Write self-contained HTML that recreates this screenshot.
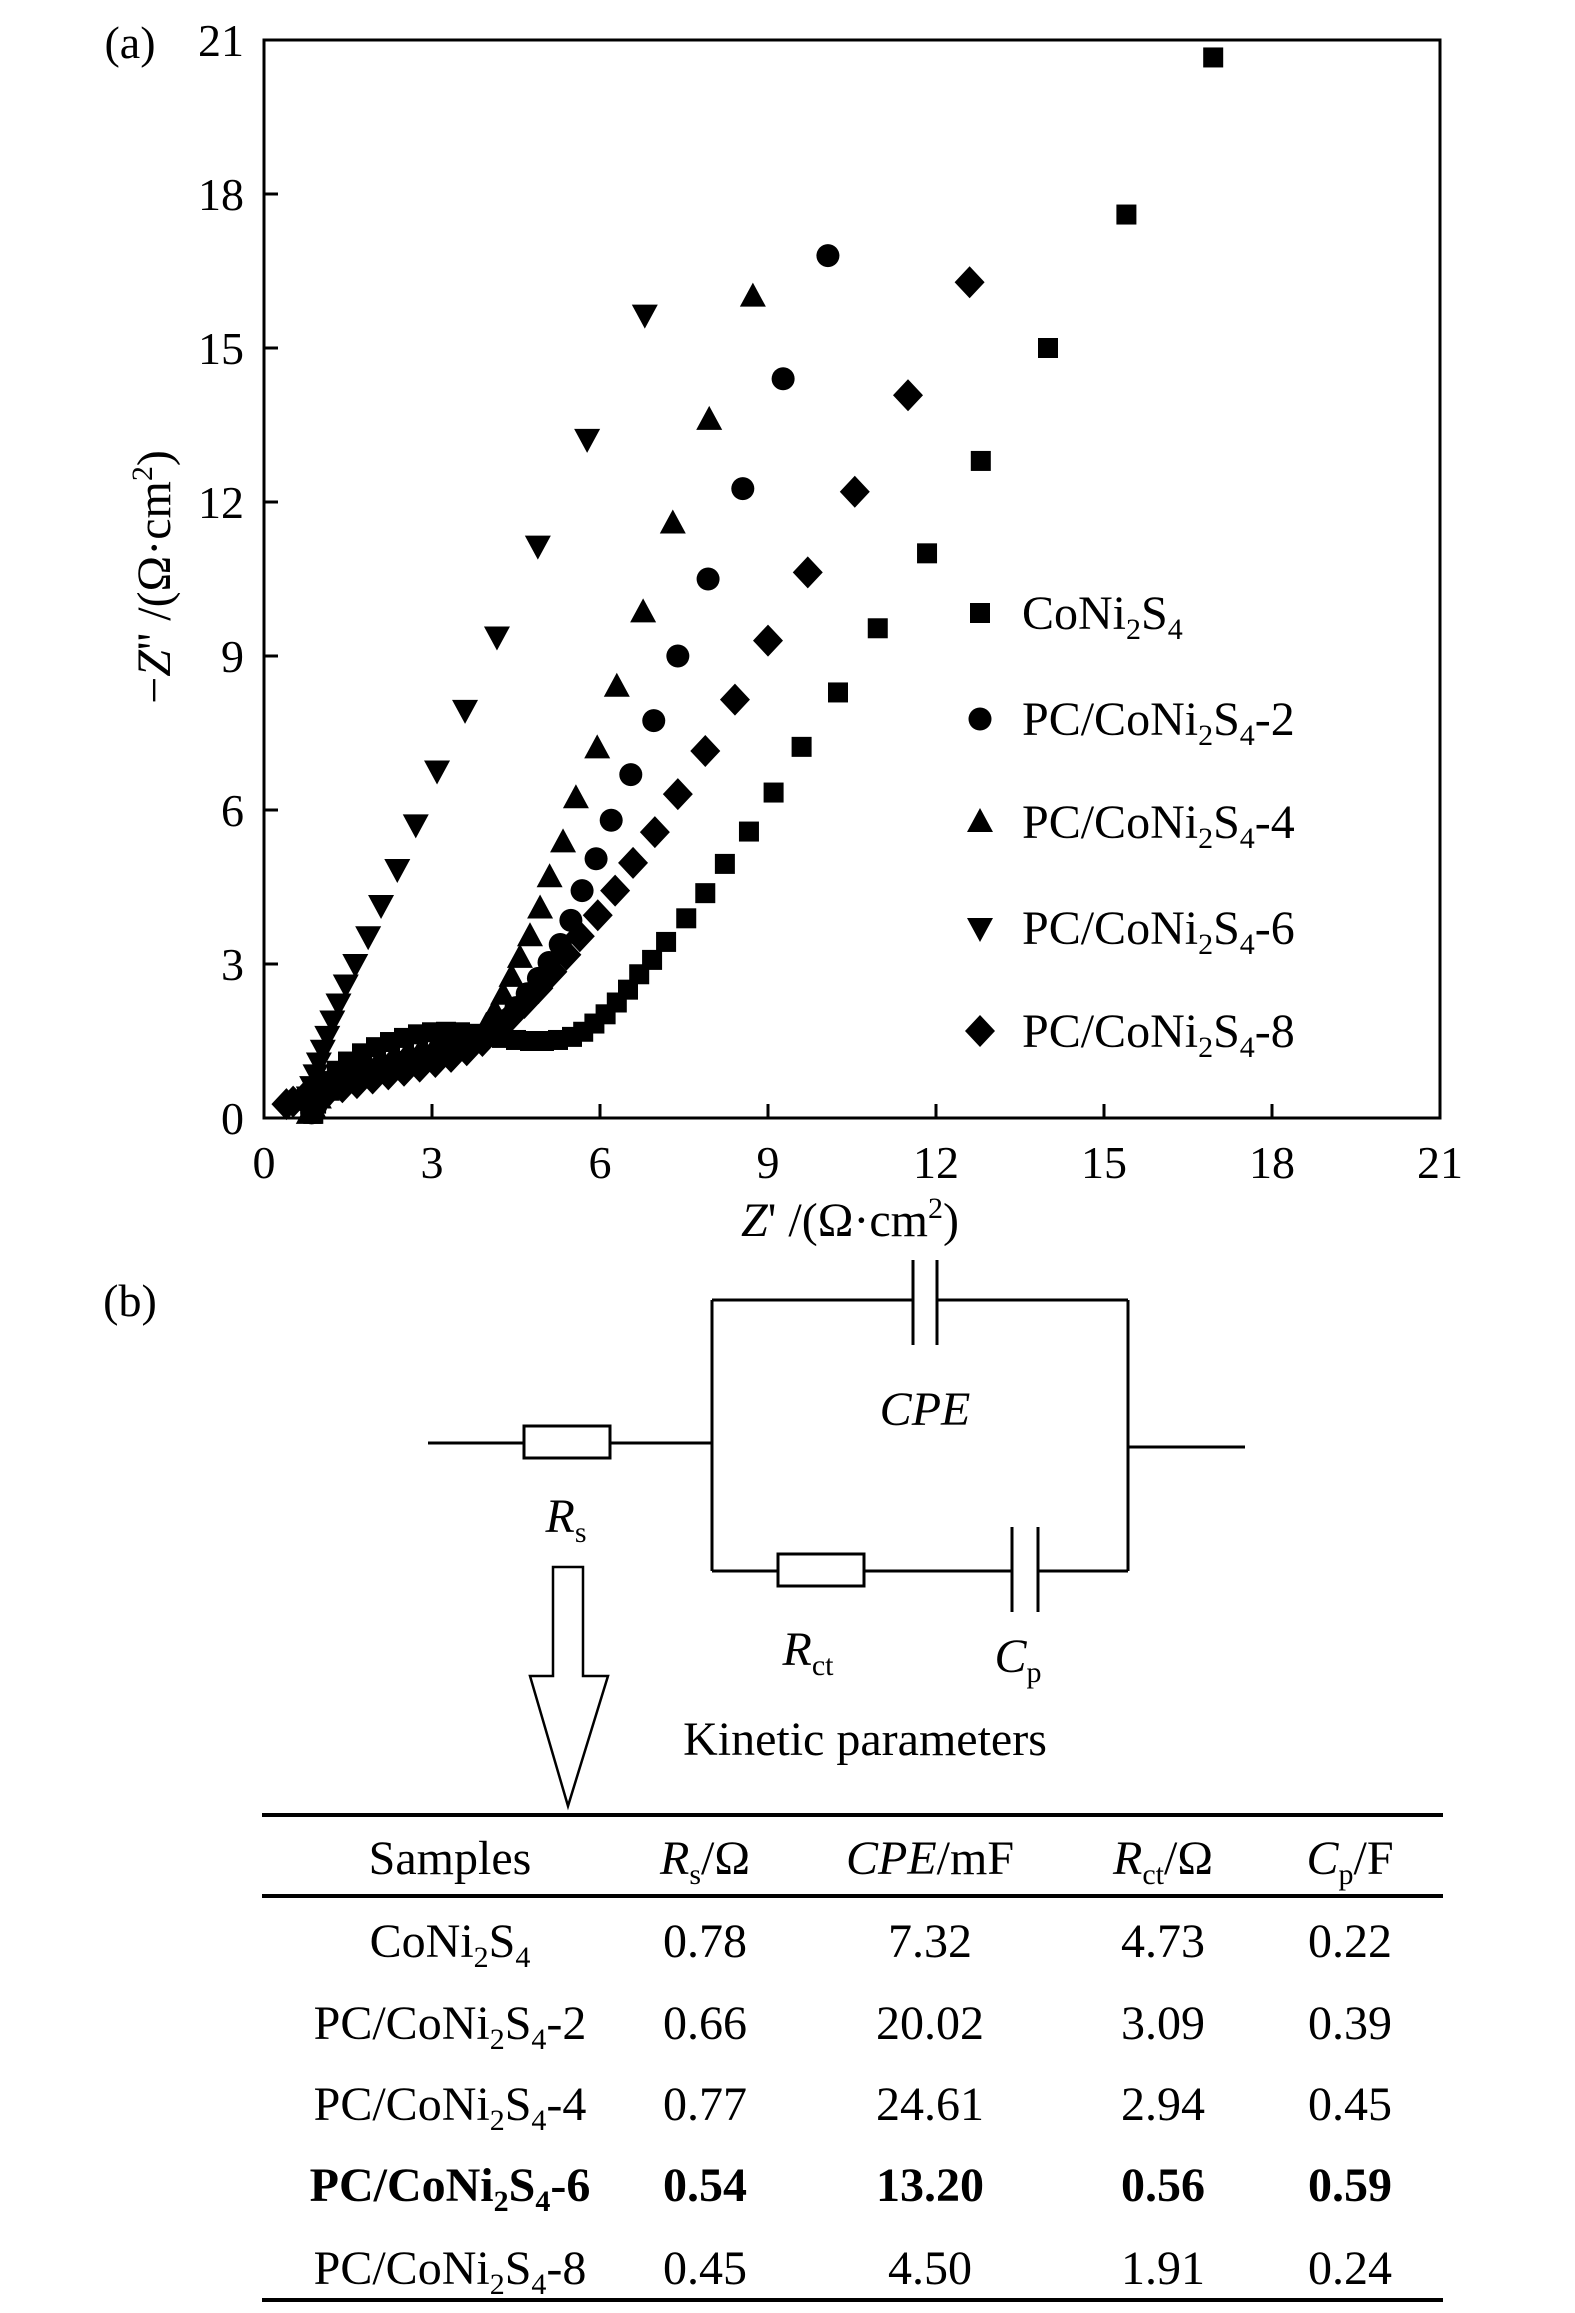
<!DOCTYPE html>
<html><head><meta charset="utf-8"><style>
html,body{margin:0;padding:0;background:#fff}
svg{display:block;font-family:"Liberation Serif",serif}
</style></head><body>
<svg id="fig" width="1575" height="2313" viewBox="0 0 1575 2313">
<g id="plot">
<rect x="264" y="40" width="1176" height="1078" fill="none" stroke="#000" stroke-width="3"/>
<g id="ticks"></g>
<g id="marks"></g>
</g>
<text x="130" y="58" font-size="46" text-anchor="middle">(a)</text>
<text x="850" y="1236" font-size="48" text-anchor="middle"><tspan font-style="italic">Z</tspan>' /(Ω·cm<tspan font-size="30" dy="-18">2</tspan><tspan dy="18">)</tspan></text>
<text transform="translate(170,577) rotate(-90)" font-size="48" text-anchor="middle">−<tspan font-style="italic">Z</tspan>'' /(Ω·cm<tspan font-size="30" dy="-18">2</tspan><tspan dy="18">)</tspan></text>
<g id="legend"></g>

<text x="130" y="1316" font-size="46" text-anchor="middle">(b)</text>
<g stroke="#000" stroke-width="3" fill="none">
<path d="M428 1443 H524 M610 1443 H712 M712 1300 V1571 M712 1300 H913 M937 1300 H1128 M1128 1300 V1571 M712 1571 H778 M864 1571 H1012 M1038 1571 H1128 M1128 1447 H1245"/>
<rect x="524" y="1426" width="86" height="32" fill="#fff"/>
<rect x="778" y="1554" width="86" height="32" fill="#fff"/>
<path d="M913 1260 V1345 M937 1260 V1345"/>
<path d="M1012 1527 V1612 M1038 1527 V1612"/>
<path d="M553 1676 V1567 H583 V1676 H608 L568 1806 L530 1676 Z" stroke-width="2.5"/>
</g>
<text x="925" y="1425" font-size="48" font-style="italic" text-anchor="middle">CPE</text>
<text x="566" y="1532" font-size="48" text-anchor="middle"><tspan font-style="italic">R</tspan><tspan font-size="30" dy="10">s</tspan></text>
<text x="808" y="1665" font-size="48" text-anchor="middle"><tspan font-style="italic">R</tspan><tspan font-size="30" dy="10">ct</tspan></text>
<text x="1018" y="1672" font-size="48" text-anchor="middle"><tspan font-style="italic">C</tspan><tspan font-size="30" dy="10">p</tspan></text>
<text x="865" y="1755" font-size="48" text-anchor="middle">Kinetic parameters</text>

<g>
<path d="M262 1815 H1443 M262 1896 H1443 M262 2300 H1443" stroke="#000" stroke-width="4"/>
<g font-size="48" text-anchor="middle">
<text x="450" y="1874">Samples</text>
<text x="705" y="1874"><tspan font-style="italic">R</tspan><tspan font-size="30" dy="10">s</tspan><tspan dy="-10">/Ω</tspan></text>
<text x="930" y="1874"><tspan font-style="italic">CPE</tspan>/mF</text>
<text x="1163" y="1874"><tspan font-style="italic">R</tspan><tspan font-size="30" dy="10">ct</tspan><tspan dy="-10">/Ω</tspan></text>
<text x="1350" y="1874"><tspan font-style="italic">C</tspan><tspan font-size="30" dy="10">p</tspan><tspan dy="-10">/F</tspan></text>
</g>
<g id="tbody" font-size="48" text-anchor="middle"></g>
</g>
</svg>
<script>
const NS="http://www.w3.org/2000/svg";
const xTicks=[0,3,6,9,12,15,18,21];
const yTicks=[0,3,6,9,12,15,18,21];
const seriesNames=["CoNi2S4","PC/CoNi2S4-2","PC/CoNi2S4-4","PC/CoNi2S4-6","PC/CoNi2S4-8"];
const sqX=[16.95,15.4,14.0,12.8,11.84,10.96,10.25,9.6,9.1,8.66,8.23,7.88,7.54,7.18,6.93,6.7,6.5,6.3,6.1,5.9,5.7,5.5,5.25,5.0,4.75,4.5,4.25,4.0,3.75,3.5,3.25,3.0,2.75,2.5,2.25,2.0,1.75,1.5,1.3,1.15,1.02,0.93,0.88];
const sqY=[20.66,17.6,15.0,12.8,11.0,9.54,8.29,7.23,6.34,5.58,4.95,4.38,3.89,3.43,3.08,2.8,2.5,2.25,2.02,1.84,1.68,1.58,1.52,1.5,1.5,1.52,1.56,1.6,1.64,1.67,1.68,1.67,1.63,1.56,1.48,1.38,1.26,1.1,0.92,0.72,0.5,0.28,0.08];
const ciX=[10.07,9.27,8.55,7.93,7.39,6.96,6.55,6.2,5.93,5.68,5.48,5.29,5.09,4.9,4.7,4.5,4.3,4.1,3.85,3.6,3.35,3.1,2.85,2.6,2.35,2.1,1.85,1.6,1.4,1.2,1.05,0.93,0.85];
const ciY=[16.8,14.4,12.26,10.5,9.0,7.74,6.69,5.8,5.05,4.43,3.85,3.38,3.03,2.72,2.42,2.15,1.9,1.7,1.52,1.42,1.35,1.29,1.23,1.17,1.1,1.03,0.95,0.85,0.73,0.58,0.42,0.25,0.1];
const trX=[8.73,7.95,7.3,6.77,6.3,5.95,5.57,5.34,5.1,4.93,4.75,4.57,4.42,4.27,4.12,3.97,3.75,3.5,3.25,3.0,2.75,2.5,2.25,2.0,1.75,1.5,1.3,1.12,0.98,0.87,0.8];
const trY=[16.0,13.6,11.58,9.85,8.4,7.2,6.23,5.37,4.69,4.08,3.54,3.12,2.75,2.4,2.08,1.8,1.56,1.43,1.35,1.28,1.21,1.14,1.07,0.99,0.9,0.8,0.68,0.53,0.38,0.22,0.08];
const dtX=[6.8,5.77,4.89,4.16,3.59,3.09,2.71,2.38,2.09,1.86,1.63,1.46,1.33,1.22,1.13,1.05,0.98,0.92,0.86,0.8,0.75];
const dtY=[15.65,13.23,11.15,9.38,7.95,6.77,5.72,4.85,4.15,3.54,3.0,2.6,2.23,1.9,1.6,1.33,1.08,0.85,0.62,0.42,0.22];
const dmX=[12.6,11.5,10.55,9.71,9.0,8.41,7.88,7.39,6.98,6.59,6.27,5.96,5.64,5.4,5.15,4.9,4.65,4.4,4.15,3.9,3.62,3.34,3.06,2.78,2.5,2.22,1.94,1.66,1.4,1.15,0.92,0.7,0.52,0.4];
const dmY=[16.28,14.08,12.2,10.63,9.3,8.15,7.15,6.31,5.57,4.97,4.43,3.95,3.54,3.18,2.85,2.53,2.24,1.97,1.72,1.5,1.32,1.19,1.09,1.0,0.92,0.85,0.77,0.68,0.6,0.52,0.45,0.38,0.32,0.27];
const rowSamples=["CoNi2S4","PC/CoNi2S4-2","PC/CoNi2S4-4","PC/CoNi2S4-6","PC/CoNi2S4-8"];
const rsVals=["0.78","0.66","0.77","0.54","0.45"];
const cpeVals=["7.32","20.02","24.61","13.20","4.50"];
const rctVals=["4.73","3.09","2.94","0.56","1.91"];
const cpVals=["0.22","0.39","0.45","0.59","0.24"];

const X0=264,X1=1440,Y0=1118,Y1=40;
function sx(v){return X0+(v/21)*(X1-X0);}
function sy(v){return Y0-(v/21)*(Y0-Y1);}
function mk(tag,attrs,parent){const e=document.createElementNS(NS,tag);for(const k in attrs)e.setAttribute(k,attrs[k]);parent.appendChild(e);return e;}
function marker(type,cx,cy,parent){
 let e;
 if(type==="sq") e=mk("rect",{x:cx-10,y:cy-10,width:20,height:20,fill:"#000"},parent);
 else if(type==="ci") e=mk("circle",{cx:cx,cy:cy,r:11.5,fill:"#000"},parent);
 else if(type==="tr") e=mk("polygon",{points:`${cx-13},${cy+10} ${cx+13},${cy+10} ${cx},${cy-14}`,fill:"#000"},parent);
 else if(type==="dt") e=mk("polygon",{points:`${cx-13},${cy-10} ${cx+13},${cy-10} ${cx},${cy+14}`,fill:"#000"},parent);
 else e=mk("polygon",{points:`${cx},${cy-16} ${cx+15},${cy} ${cx},${cy+16} ${cx-15},${cy}`,fill:"#000"},parent);
 return e;
}
const ticksG=document.getElementById("ticks");
xTicks.forEach((t,i)=>{
 const x=sx(t);
 if(i>0&&i<xTicks.length-1){const l=mk("line",{x1:x,x2:x,y1:Y0,y2:Y0-14,stroke:"#000","stroke-width":3},ticksG);
 
 }
 const tx=mk("text",{x:x,y:Y0+60,"font-size":46,"text-anchor":"middle"},ticksG);tx.textContent=t;
 
 
});
yTicks.forEach((t,i)=>{
 const y=sy(t);
 if(i>0&&i<yTicks.length-1){const l=mk("line",{x1:X0,x2:X0+14,y1:y,y2:y,stroke:"#000","stroke-width":3},ticksG);
 
 }
 const tx=mk("text",{x:X0-20,y:y+16,"font-size":46,"text-anchor":"end"},ticksG);tx.textContent=t;
 
 
});
const marksG=document.getElementById("marks");
const series=[["sq",sqX,sqY,"series-coni2s4"],["ci",ciX,ciY,"series-pc-coni2s4-2"],["tr",trX,trY,"series-pc-coni2s4-4"],["dt",dtX,dtY,"series-pc-coni2s4-6"],["dm",dmX,dmY,"series-pc-coni2s4-8"]];
series.forEach(s=>{
 const g=mk("g",{},marksG);
 
 
 s[1].forEach((v,i)=>{const m=marker(s[0],sx(v),sy(s[2][i]),g);
  
  });
});
function chem(el,name){
 const m=name.match(/^(.*?CoNi)2S4(.*)$/);
 if(!m){el.textContent=name;return;}
 const a=mk("tspan",{},el);a.textContent=m[1];
 const b=mk("tspan",{"font-size":30,dy:10},el);b.textContent="2";
 const c=mk("tspan",{dy:-10},el);c.textContent="S";
 const d=mk("tspan",{"font-size":30,dy:10},el);d.textContent="4";
 if(m[2]){const e=mk("tspan",{dy:-10},el);e.textContent=m[2];}
}
const legG=document.getElementById("legend");
const legY=[613,719,822,928,1031];
const legT=["sq","ci","tr","dt","dm"];
seriesNames.forEach((n,i)=>{
 const g=mk("g",{},legG);
 
 
 marker(legT[i],980,legY[i],g);
 const t=mk("text",{x:1022,y:legY[i]+16,"font-size":48},g);chem(t,n);
});
const tb=document.getElementById("tbody");
const rowY=[1957,2039,2120,2201,2284];
const colX=[450,705,930,1163,1350];
rowSamples.forEach((n,i)=>{
 const g=mk("g",{},tb);
 
 
 if(i===3)g.setAttribute("font-weight","bold");
 const t=mk("text",{x:colX[0],y:rowY[i]},g);chem(t,n);
 [rsVals,cpeVals,rctVals,cpVals].forEach((arr,j)=>{const c=mk("text",{x:colX[j+1],y:rowY[i]},g);c.textContent=arr[i];});
});
</script>
</body></html>
